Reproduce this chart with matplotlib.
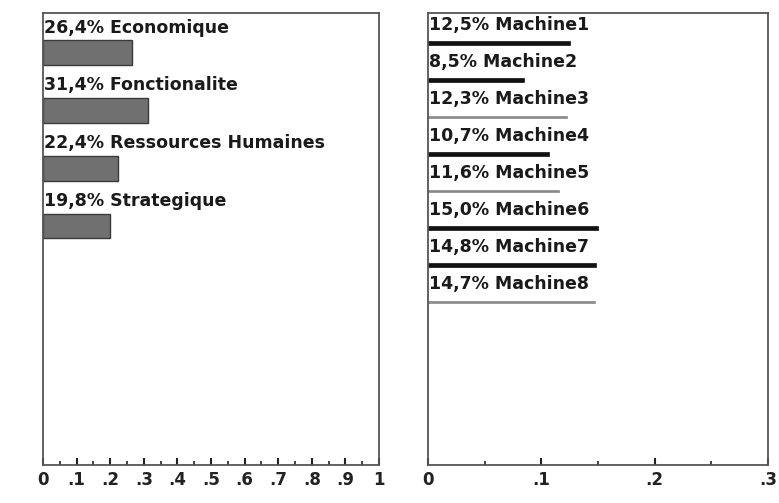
import matplotlib.pyplot as plt
from matplotlib.ticker import MultipleLocator, FuncFormatter

# left panel: criteria
criteres = ['Economique', 'Fonctionalite', 'Ressources Humaines', 'Strategique']
poids_criteres = [0.264, 0.314, 0.224, 0.198]

# right panel: alternatives
machines = ['Machine1', 'Machine2', 'Machine3', 'Machine4',
            'Machine5', 'Machine6', 'Machine7', 'Machine8']
poids_machines = [0.125, 0.085, 0.123, 0.107, 0.116, 0.150, 0.148, 0.147]
machines_sombres = [True, True, False, True, False, True, True, False]

plt.rcParams['font.family'] = ['DejaVu Sans']


def pct(v):
    return ('%.1f%%' % (v * 100)).replace('.', ',')


def tick_fmt(v, pos):
    if abs(v) < 1e-9:
        return '0'
    if abs(v - 1) < 1e-9:
        return '1'
    return ('%.1f' % v).lstrip('0')


def style_axes(ax, xmax, minor):
    ax.set_xlim(0, xmax)
    ax.xaxis.set_major_locator(MultipleLocator(0.1))
    ax.xaxis.set_minor_locator(MultipleLocator(minor))
    ax.xaxis.set_major_formatter(FuncFormatter(tick_fmt))
    ax.tick_params(axis='x', which='major', direction='in', length=5, width=1.5,
                   labelsize=12, pad=4, colors='#222222')
    ax.tick_params(axis='x', which='minor', direction='in', length=3, width=1.2,
                   colors='#222222')
    ax.set_yticks([])
    for s in ax.spines.values():
        s.set_color('#555555')
        s.set_linewidth(1.3)
    for lab in ax.get_xticklabels():
        lab.set_fontweight('bold')


fig = plt.figure(figsize=(7.79, 5.03), dpi=100)

ax1 = fig.add_axes([0.0552, 0.0755, 0.4313, 0.899])
ax1.set_ylim(7.14, -0.693)
ax1.barh(range(len(criteres)), poids_criteres, height=0.43,
         color='#707070', edgecolor='#3a3a3a', linewidth=1)
for i, (c, v) in enumerate(zip(criteres, poids_criteres)):
    ax1.text(0.003, i - 0.28, pct(v) + ' ' + c, fontsize=12.5, color='#1a1a1a',
             fontweight='bold', va='bottom', ha='left')
style_axes(ax1, 1, 0.05)

ax2 = fig.add_axes([0.5494, 0.0755, 0.4365, 0.899])
ax2.set_ylim(11.4, -0.81)
for i, (m, v, sombre) in enumerate(zip(machines, poids_machines, machines_sombres)):
    if sombre:
        ax2.barh(i, v, height=0.12, color='#111111', edgecolor='#111111', linewidth=0.5)
    else:
        ax2.barh(i, v, height=0.06, color='#8a8a8a', edgecolor='#8a8a8a', linewidth=0.5)
    ax2.text(0.001, i - 0.25, pct(v) + ' ' + m, fontsize=12.5, color='#1a1a1a',
             fontweight='bold', va='bottom', ha='left')
style_axes(ax2, 0.3, 0.05)

fig.savefig('out.png', dpi=100, facecolor='white')
